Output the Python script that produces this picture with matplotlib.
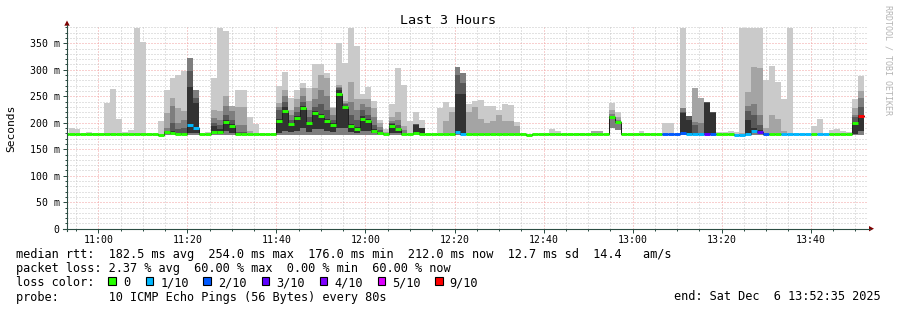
import matplotlib
matplotlib.use("Agg")
import matplotlib.pyplot as plt
import numpy as np
from matplotlib.ticker import MultipleLocator, FuncFormatter
from matplotlib.lines import Line2D
from matplotlib.patches import Polygon, Rectangle

plt.rcParams['font.family'] = ['DejaVu Sans Mono']

# 80 s bins, times in minutes after 11:00, first bin starts at 10:52:00
first_bin = -6
step_min = 80 / 60

# loss count (of 10 pings) per bin
loss = [0, 0, 0, 0, 0, 0,
        0, 0, 0, 0, 0, 0, 0, 0, 0, 0, 0, 0, 0, 0, 0,
        1, 1, 0, 0, 0, 0, 0, 0, 0, 0, 0, 0, 0, 0, 0,
        0, 0, 0, 0, 0, 0, 0, 0, 0, 0, 0, 0, 0, 0, 0,
        0, 0, 0, 0, 0, 0, 0, 0, 0, 0, 0, 0, 0, 0, 0,
        1, 1, 0, 0, 0, 0, 0, 0, 0, 0, 0, 0, 0, 0, 0,
        0, 0, 0, 0, 0, 0, 0, 0, 0, 0, 0, 0, 0, 0, 0,
        0, 0, 0, 0, 0, 2, 2, 2, 2, 1, 1, 1, 3, 2, 0,
        0, 0, 1, 1, 1, 1, 3, 2, 0, 0, 1, 1, 1, 1, 1,
        0, 1, 1, 0, 0, 0, 0, 0, 9]

# median rtt (ms)
med = [178, 178, 178, 178, 178, 178,
       178, 178, 178, 178, 178, 178, 178, 178, 178, 178, 176, 182, 181, 178, 178,
       195, 190, 178, 178, 183, 182, 201, 194, 178, 178, 178, 178, 178, 178, 178,
       204, 223, 197, 209, 228, 199, 218, 213, 204, 196, 254, 230, 193, 188, 208,
       204, 185, 181, 179, 194, 188, 178, 178, 181, 179, 178, 178, 178, 178, 178,
       182, 179, 178, 178, 178, 178, 178, 178, 178, 179, 178, 178, 176, 178, 178,
       178, 178, 178, 178, 178, 178, 178, 178, 178, 178, 178, 211, 201, 178, 178,
       178, 178, 178, 178, 178, 178, 178, 178, 180, 179, 179, 179, 179, 179, 178,
       178, 178, 177, 177, 178, 184, 183, 178, 178, 178, 178, 178, 178, 178, 178,
       178, 178, 178, 178, 178, 178, 178, 199, 213]

# sorted ping values used for the smoke (ms)
p1 = [176, 176, 176, 176, 176, 176,
      176, 176, 176, 176, 176, 176, 176, 176, 176, 176, 175, 176, 176, 176, 176,
      176, 176, 176, 176, 176, 176, 176, 176, 176, 176, 176, 176, 176, 176, 176,
      176, 176, 176, 176, 176, 176, 176, 176, 176, 176, 176, 176, 176, 176, 176,
      176, 176, 176, 176, 176, 176, 176, 176, 176, 176, 176, 176, 176, 176, 176,
      176, 176, 176, 176, 176, 176, 176, 176, 176, 176, 176, 176, 175, 176, 176,
      176, 176, 176, 176, 176, 176, 176, 176, 176, 176, 176, 190, 186, 176, 176,
      176, 176, 176, 176, 176, 176, 176, 176, 176, 176, 176, 176, 176, 176, 176,
      176, 176, 176, 176, 176, 176, 176, 176, 176, 176, 176, 176, 176, 176, 176,
      176, 176, 176, 176, 176, 176, 176, 176, 176]

p5 = [178, 178, 178, 178, 178, 178,
      178, 178, 178, 178, 178, 178, 178, 178, 178, 178, 176, 180, 179, 178, 178,
      181, 181, 178, 178, 180, 179, 185, 180, 178, 178, 178, 178, 178, 178, 178,
      181, 185, 182, 185, 190, 183, 188, 188, 185, 182, 190, 190, 182, 180, 185,
      185, 180, 179, 178, 180, 180, 178, 178, 178, 178, 178, 178, 178, 178, 178,
      180, 179, 178, 178, 178, 178, 178, 178, 178, 179, 178, 178, 176, 178, 178,
      178, 178, 178, 178, 178, 178, 178, 178, 178, 178, 178, 209, 199, 178, 178,
      178, 178, 178, 178, 178, 178, 178, 178, 180, 179, 179, 179, 179, 179, 178,
      178, 178, 177, 177, 179, 180, 180, 178, 178, 178, 178, 178, 178, 178, 178,
      178, 178, 178, 178, 178, 178, 178, 178, 185]

p6 = [178, 178, 178, 178, 178, 178,
      178, 178, 178, 178, 178, 178, 178, 178, 178, 178, 176, 183, 185, 181, 181,
      268, 238, 178, 178, 193, 188, 205, 198, 179, 179, 178, 178, 178, 178, 178,
      208, 230, 200, 212, 232, 202, 222, 217, 208, 199, 262, 232, 197, 192, 212,
      208, 188, 183, 179, 197, 191, 178, 178, 195, 190, 178, 178, 178, 178, 178,
      255, 255, 178, 178, 178, 178, 178, 178, 178, 179, 178, 178, 176, 178, 178,
      178, 178, 178, 178, 178, 178, 178, 178, 178, 178, 178, 212, 202, 178, 178,
      178, 178, 178, 178, 178, 178, 178, 178, 218, 205, 180, 179, 238, 219, 178,
      178, 178, 177, 177, 205, 190, 187, 178, 178, 178, 178, 178, 178, 178, 178,
      178, 178, 178, 178, 178, 178, 178, 201, 215]

p7 = [178, 178, 178, 178, 178, 178,
      178, 178, 178, 178, 178, 178, 178, 178, 178, 178, 176, 185, 200, 188, 190,
      298, 247, 178, 178, 200, 195, 215, 205, 182, 182, 178, 178, 178, 178, 178,
      225, 240, 205, 220, 240, 210, 230, 235, 225, 205, 265, 235, 215, 205, 225,
      215, 195, 186, 179, 200, 196, 178, 178, 197, 191, 178, 178, 178, 178, 178,
      290, 275, 178, 178, 178, 178, 178, 178, 178, 179, 178, 178, 176, 178, 178,
      178, 178, 178, 178, 178, 178, 178, 178, 178, 178, 178, 213, 203, 178, 178,
      178, 178, 178, 178, 178, 178, 178, 178, 220, 213, 195, 179, 240, 220, 178,
      178, 178, 177, 177, 222, 215, 195, 178, 178, 178, 178, 178, 178, 178, 178,
      178, 178, 178, 178, 178, 178, 178, 210, 230]

p8 = [178, 178, 178, 178, 178, 178,
      178, 178, 178, 178, 178, 178, 178, 178, 178, 178, 176, 190, 232, 200, 205,
      322, 262, 178, 178, 209, 206, 232, 222, 195, 195, 178, 178, 178, 178, 178,
      230, 250, 215, 230, 250, 225, 245, 262, 250, 215, 268, 238, 240, 225, 235,
      230, 210, 192, 180, 204, 205, 186, 178, 197, 191, 178, 178, 178, 178, 178,
      305, 294, 178, 178, 178, 178, 178, 178, 178, 179, 178, 178, 176, 178, 178,
      178, 178, 178, 178, 178, 178, 178, 178, 178, 178, 178, 216, 205, 178, 178,
      178, 178, 178, 178, 178, 178, 178, 178, 227, 213, 202, 200, 240, 220, 178,
      178, 178, 177, 177, 232, 236, 215, 178, 178, 178, 178, 178, 178, 178, 178,
      178, 178, 178, 178, 178, 178, 178, 215, 246]

p9 = [178, 178, 178, 178, 178, 178,
      178, 180, 181, 178, 178, 178, 180, 180, 178, 178, 176, 219, 247, 228, 222,
      322, 262, 178, 178, 225, 223, 251, 232, 230, 230, 185, 178, 178, 178, 178,
      238, 262, 224, 245, 265, 241, 265, 290, 285, 228, 271, 241, 277, 245, 245,
      245, 227, 199, 183, 211, 220, 193, 178, 197, 191, 178, 178, 178, 204, 221,
      305, 294, 221, 230, 207, 200, 204, 215, 203, 203, 194, 178, 176, 178, 178,
      178, 178, 178, 178, 178, 178, 178, 178, 185, 185, 178, 224, 210, 178, 178,
      178, 178, 178, 178, 178, 178, 178, 178, 227, 213, 266, 247, 240, 220, 178,
      178, 178, 178, 180, 258, 305, 303, 190, 215, 207, 185, 178, 178, 178, 178,
      178, 178, 178, 178, 178, 178, 178, 228, 260]

p10 = [178, 190, 189, 178, 183, 180,
       179, 238, 264, 208, 183, 186, 379, 352, 181, 178, 204, 262, 285, 290, 298,
       322, 262, 178, 183, 285, 379, 373, 232, 262, 261, 210, 197, 181, 178, 178,
       269, 295, 246, 262, 275, 265, 310, 310, 293, 230, 350, 313, 379, 345, 255,
       268, 241, 206, 188, 235, 303, 271, 203, 221, 206, 178, 178, 228, 240, 230,
       305, 294, 235, 241, 243, 231, 231, 224, 235, 233, 201, 181, 176, 178, 178,
       178, 188, 185, 178, 178, 178, 181, 178, 185, 185, 178, 237, 220, 180, 178,
       178, 185, 181, 178, 178, 200, 199, 178, 379, 213, 266, 247, 240, 220, 183,
       183, 185, 182, 379, 379, 379, 379, 280, 307, 277, 245, 379, 181, 178, 178,
       193, 208, 178, 186, 188, 185, 183, 245, 288]

loss_colors = {0: '#26ff00', 1: '#00b8ff', 2: '#0059ff', 3: '#5e00ff',
               4: '#7e00ff', 5: '#dd00ff', 9: '#ff0000'}
loss_labels = ['0', '1/10', '2/10', '3/10', '4/10', '5/10', '9/10']
smoke_colors = ['#cacaca', '#a4a4a4', '#7e7e7e', '#585858', '#323232']

W, H = 897, 310
fig = plt.figure(figsize=(W / 100, H / 100), dpi=100, facecolor='white')


def fx(x):
    return x / W


def fy(y):
    return 1 - y / H


ax_l, ax_r, ax_t, ax_b = 67, 868, 27, 228.7
ax = fig.add_axes([fx(ax_l), fy(ax_b), (ax_r - ax_l) / W, (ax_b - ax_t) / H])
ax.set_facecolor('white')

px_per_min = 4.4525
ax.set_xlim((ax_l - 98.3) / px_per_min, (ax_r - 98.3) / px_per_min)
ax.set_ylim(0, (ax_b - ax_t) / 0.5297)

n = len(med)
t = (first_bin + np.arange(n + 1)) * step_min


def ext(v):
    v = np.asarray(v, dtype=float)
    return np.append(v, v[-1])


# smoke
ax.fill_between(t, ext(p1), ext(p10), step='post', color=smoke_colors[0], lw=0, zorder=2)
ax.fill_between(t, ext(p1), ext(p9), step='post', color=smoke_colors[1], lw=0, zorder=2)
ax.fill_between(t, ext(p1), ext(p8), step='post', color=smoke_colors[2], lw=0, zorder=2)
ax.fill_between(t, ext(p5), ext(p7), step='post', color=smoke_colors[3], lw=0, zorder=2)
ax.fill_between(t, ext(p5), ext(p6), step='post', color=smoke_colors[4], lw=0, zorder=2)

# median
ax.step(t, ext(med), where='post', color='#202020', lw=0.72, zorder=3)
ax.hlines(med, t[:-1], t[1:], colors=[loss_colors[l] for l in loss],
          lw=2.1, capstyle='butt', zorder=4)

# grid and ticks
ax.xaxis.set_major_locator(MultipleLocator(20))
ax.xaxis.set_minor_locator(MultipleLocator(5))
ax.yaxis.set_major_locator(MultipleLocator(50))
ax.yaxis.set_minor_locator(MultipleLocator(10))
ax.xaxis.set_major_formatter(FuncFormatter(
    lambda m, p: f"{11 + int(round(m)) // 60}:{int(round(m)) % 60:02d}"))
ax.yaxis.set_major_formatter(FuncFormatter(
    lambda v, p: "0" if v == 0 else f"{int(v)} m"))
ax.set_axisbelow(True)
ax.grid(which='minor', color='#c6c6c6', linestyle=(0, (1, 2)), lw=0.72)
ax.grid(which='major', color='#f2a0a0', linestyle=(0, (1, 2)), lw=0.72)
ax.tick_params(which='major', length=3.0, width=0.72, color='#2c4d43',
               labelsize=7.1, pad=2.2)
ax.tick_params(which='minor', length=1.5, width=0.72, color='#2c4d43')
ax.tick_params(axis='x', which='major', length=3.2, pad=1.6)
for s in ax.spines.values():
    s.set_visible(False)

# axis lines with arrows
fig.add_artist(Line2D([fx(ax_l), fx(ax_l)], [fy(230.5), fy(25)],
                      color='#2c4d43', lw=0.8))
fig.add_artist(Line2D([fx(63), fx(870)], [fy(ax_b), fy(ax_b)],
                      color='#2c4d43', lw=0.8))
fig.add_artist(Polygon([[fx(64.3), fy(25.7)], [fx(69.7), fy(25.7)], [fx(67), fy(20.5)]],
                       closed=True, color='#7f0000', lw=0))
fig.add_artist(Polygon([[fx(869), fy(226)], [fx(869), fy(231.4)], [fx(874), fy(ax_b)]],
                       closed=True, color='#7f0000', lw=0))

# titles
fig.text(fx(448), fy(23.5), "Last 3 Hours", ha='center', va='baseline', fontsize=9.6)
fig.text(fx(11.5), fy(128), "Seconds", ha='center', va='center', rotation=90, fontsize=8.1)
fig.text(fx(888), fy(60), "RRDTOOL / TOBI OETIKER", ha='center', va='center',
         rotation=270, fontsize=6, color='#b4b4b4')

# legend block
fs = 8.55
fig.text(fx(16), fy(258.3),
         "median rtt:  182.5 ms avg  254.0 ms max  176.0 ms min  212.0 ms now  12.7 ms sd  14.4   am/s",
         va='baseline', fontsize=fs)
fig.text(fx(16), fy(272.3),
         "packet loss: 2.37 % avg  60.00 % max  0.00 % min  60.00 % now",
         va='baseline', fontsize=fs)
fig.text(fx(16), fy(286), "loss color:", va='baseline', fontsize=fs)
box_x = [108.3, 145.7, 203.3, 261.7, 320, 377.7, 435.3]
label_x = [123.3, 160.7, 218.3, 276, 334, 392, 449.3]
for bx, lx, key, lab in zip(box_x, label_x, [0, 1, 2, 3, 4, 5, 9], loss_labels):
    fig.add_artist(Rectangle((fx(bx), fy(285)), 7.3 / W, 7.7 / H,
                             facecolor=loss_colors[key], edgecolor='black', lw=0.8))
    fig.text(fx(lx), fy(286), lab, va='baseline', fontsize=fs)
fig.text(fx(16), fy(300.5), "probe:       10 ICMP Echo Pings (56 Bytes) every 80s",
         va='baseline', fontsize=fs)
fig.text(fx(881), fy(300.5), "end: Sat Dec  6 13:52:35 2025", ha='right',
         va='baseline', fontsize=fs)

fig.savefig("out.png", dpi=100, facecolor='white')
